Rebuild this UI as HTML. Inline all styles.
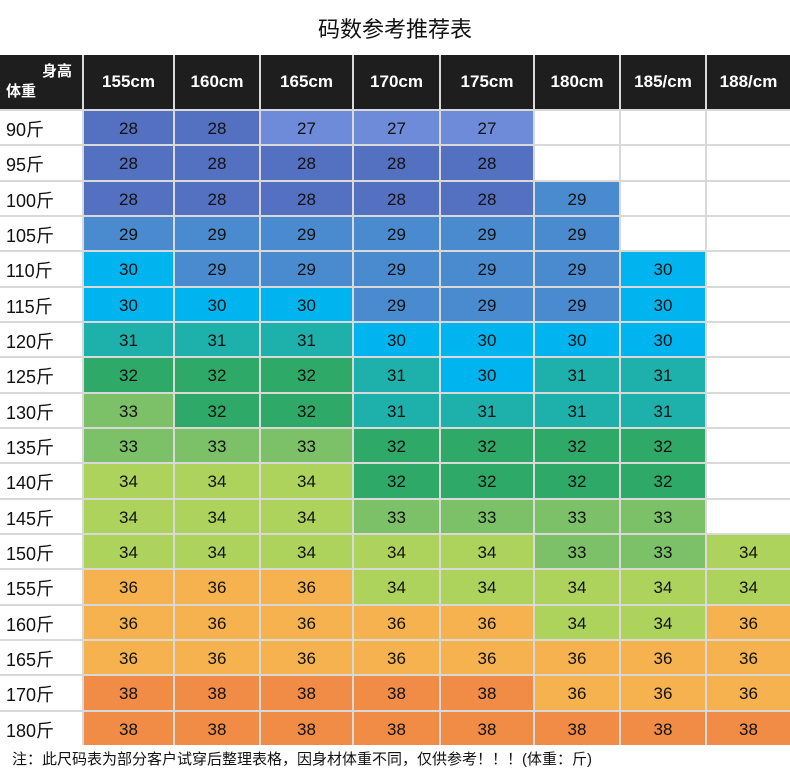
<!DOCTYPE html>
<html><head><meta charset="utf-8"><style>
body{margin:0;width:790px;height:777px;background:#fff;overflow:hidden;font-family:"Liberation Sans","Noto Sans CJK SC",sans-serif;}
.t{position:absolute;top:12px;left:0;width:790px;text-align:center;font-size:22px;color:#111;}
.g{position:absolute;left:0;top:55px;width:790px;height:690px;display:grid;grid-template-columns:82px 89px 84px 91px 85px 92px 84px 84px 83px;grid-template-rows:54px repeat(18,1fr);gap:2px;background:#d9d9d9;}
.g div{display:flex;align-items:center;justify-content:center;font-size:17px;color:#111;background:#fff;padding-top:3px;box-sizing:border-box;}
.g .h{background:#1e1e1e;color:#fff;font-size:17px;font-weight:bold;padding-top:0;}
.g .l{justify-content:flex-start;padding-left:6px;font-size:18px;}
.a{background:#5470c0!important}.b{background:#6e8bd9!important}.c{background:#4a8bd0!important}
.d{background:#00b5ef!important}.e{background:#1eb0aa!important}.f{background:#2fa968!important}
.k{background:#7cc068!important}.m{background:#add35d!important}.n{background:#f6b24f!important}.o{background:#f08c46!important}
.fn{position:absolute;left:12px;top:748px;font-size:15px;color:#111;}
</style></head><body>
<div class="t">码数参考推荐表</div>
<div class="g">
<div class="h" style="flex-direction:column;align-items:flex-start;padding-left:6px;font-size:15px;line-height:20px"><span style="margin-left:36px">身高</span><span>体重</span></div>
<div class="h">155cm</div><div class="h">160cm</div><div class="h">165cm</div><div class="h">170cm</div><div class="h">175cm</div><div class="h">180cm</div><div class="h">185/cm</div><div class="h">188/cm</div>
<div class="l">90斤</div><div class="a">28</div><div class="a">28</div><div class="b">27</div><div class="b">27</div><div class="b">27</div><div></div><div></div><div></div>
<div class="l">95斤</div><div class="a">28</div><div class="a">28</div><div class="a">28</div><div class="a">28</div><div class="a">28</div><div></div><div></div><div></div>
<div class="l">100斤</div><div class="a">28</div><div class="a">28</div><div class="a">28</div><div class="a">28</div><div class="a">28</div><div class="c">29</div><div></div><div></div>
<div class="l">105斤</div><div class="c">29</div><div class="c">29</div><div class="c">29</div><div class="c">29</div><div class="c">29</div><div class="c">29</div><div></div><div></div>
<div class="l">110斤</div><div class="d">30</div><div class="c">29</div><div class="c">29</div><div class="c">29</div><div class="c">29</div><div class="c">29</div><div class="d">30</div><div></div>
<div class="l">115斤</div><div class="d">30</div><div class="d">30</div><div class="d">30</div><div class="c">29</div><div class="c">29</div><div class="c">29</div><div class="d">30</div><div></div>
<div class="l">120斤</div><div class="e">31</div><div class="e">31</div><div class="e">31</div><div class="d">30</div><div class="d">30</div><div class="d">30</div><div class="d">30</div><div></div>
<div class="l">125斤</div><div class="f">32</div><div class="f">32</div><div class="f">32</div><div class="e">31</div><div class="d">30</div><div class="e">31</div><div class="e">31</div><div></div>
<div class="l">130斤</div><div class="k">33</div><div class="f">32</div><div class="f">32</div><div class="e">31</div><div class="e">31</div><div class="e">31</div><div class="e">31</div><div></div>
<div class="l">135斤</div><div class="k">33</div><div class="k">33</div><div class="k">33</div><div class="f">32</div><div class="f">32</div><div class="f">32</div><div class="f">32</div><div></div>
<div class="l">140斤</div><div class="m">34</div><div class="m">34</div><div class="m">34</div><div class="f">32</div><div class="f">32</div><div class="f">32</div><div class="f">32</div><div></div>
<div class="l">145斤</div><div class="m">34</div><div class="m">34</div><div class="m">34</div><div class="k">33</div><div class="k">33</div><div class="k">33</div><div class="k">33</div><div></div>
<div class="l">150斤</div><div class="m">34</div><div class="m">34</div><div class="m">34</div><div class="m">34</div><div class="m">34</div><div class="k">33</div><div class="k">33</div><div class="m">34</div>
<div class="l">155斤</div><div class="n">36</div><div class="n">36</div><div class="n">36</div><div class="m">34</div><div class="m">34</div><div class="m">34</div><div class="m">34</div><div class="m">34</div>
<div class="l">160斤</div><div class="n">36</div><div class="n">36</div><div class="n">36</div><div class="n">36</div><div class="n">36</div><div class="m">34</div><div class="m">34</div><div class="n">36</div>
<div class="l">165斤</div><div class="n">36</div><div class="n">36</div><div class="n">36</div><div class="n">36</div><div class="n">36</div><div class="n">36</div><div class="n">36</div><div class="n">36</div>
<div class="l">170斤</div><div class="o">38</div><div class="o">38</div><div class="o">38</div><div class="o">38</div><div class="o">38</div><div class="n">36</div><div class="n">36</div><div class="n">36</div>
<div class="l">180斤</div><div class="o">38</div><div class="o">38</div><div class="o">38</div><div class="o">38</div><div class="o">38</div><div class="o">38</div><div class="o">38</div><div class="o">38</div>
</div>
<div class="fn">注：此尺码表为部分客户试穿后整理表格，因身材体重不同，仅供参考！！！(体重：斤)</div>
</body></html>
